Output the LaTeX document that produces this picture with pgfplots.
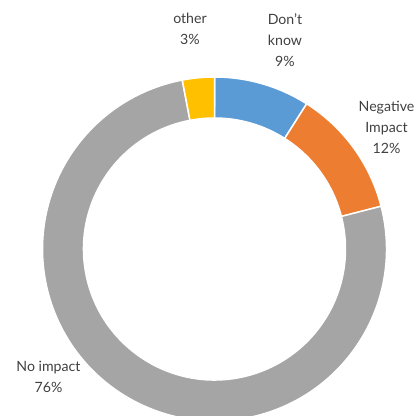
\documentclass[border=0pt]{standalone}
\usepackage{pgfplots}
\pgfplotsset{compat=1.18}
\usepackage{pgfplotstable}
\usepackage{fontspec}
\setmainfont{Lato}
\definecolor{cblue}{HTML}{5B9BD5}
\definecolor{corange}{HTML}{ED7D31}
\definecolor{cgray}{HTML}{A5A5A5}
\definecolor{cyellow}{HTML}{FFC000}
\definecolor{ctext}{HTML}{404040}
\pgfplotstableread{
name pct
dontknow 9
negative 12
noimpact 76
other 3
}\donutdata
\pgfplotstablegetelem{0}{pct}\of\donutdata \let\pA\pgfplotsretval
\pgfplotstablegetelem{1}{pct}\of\donutdata \let\pB\pgfplotsretval
\pgfplotstablegetelem{2}{pct}\of\donutdata \let\pC\pgfplotsretval
\pgfplotstablegetelem{3}{pct}\of\donutdata \let\pD\pgfplotsretval
\pgfmathsetmacro{\aO}{90}
\pgfmathsetmacro{\aA}{\aO-3.6*\pA}
\pgfmathsetmacro{\aB}{\aA-3.6*\pB}
\pgfmathsetmacro{\aC}{\aB-3.6*\pC}
\pgfmathsetmacro{\aD}{\aC-3.6*\pD}
\newcommand\slice[3]{%
  \fill[#3,draw=white,line width=1.5bp]
    ({172*cos(#1)},{172*sin(#1)}) arc[start angle=#1,end angle=#2,radius=172bp]
    -- ({131*cos(#2)},{131*sin(#2)}) arc[start angle=#2,end angle=#1,radius=131bp] -- cycle;}
\tikzset{lbl/.style={font=\fontsize{14.2}{21}\selectfont,text=ctext,align=center,inner sep=0pt}}
\begin{document}
\begin{tikzpicture}
\begin{axis}[x=1bp,y=1bp,xmin=-214.5,xmax=202.5,ymin=-167,ymax=249,hide axis,clip=true]
\slice{\aO}{\aA}{cblue}
\slice{\aA}{\aB}{corange}
\slice{\aB}{\aC}{cgray}
\slice{\aC}{\aD}{cyellow}
\node[lbl] at (-24.5,220) {other\\3\%};
\node[lbl] at (70.5,209) {Don't\\know\\9\%};
\node[lbl] at (172,122) {Negative\\Impact\\12\%};
\node[lbl] at (-166,-128) {No impact\\76\%};
\end{axis}
\pgfresetboundingbox
\path (current axis.south west) rectangle (current axis.north east);
\end{tikzpicture}
\end{document}
